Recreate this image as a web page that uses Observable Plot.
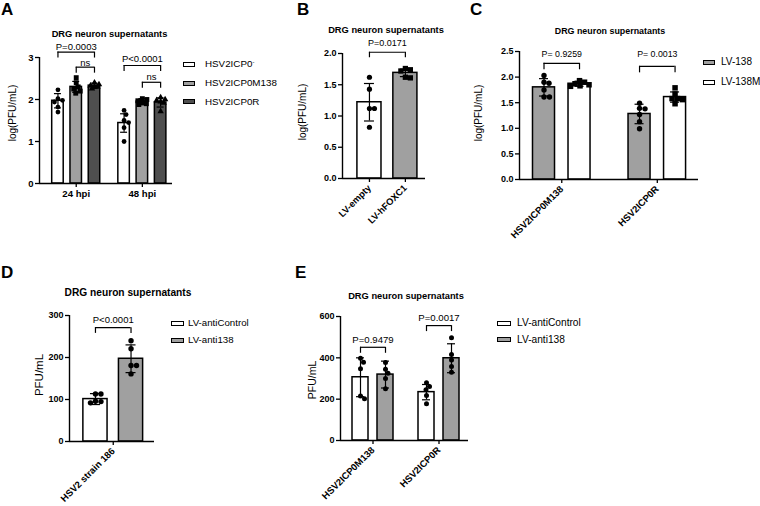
<!DOCTYPE html>
<html><head><meta charset="utf-8">
<script src="https://cdn.jsdelivr.net/npm/d3@7"></script>
<script src="https://cdn.jsdelivr.net/npm/@observablehq/plot@0.6"></script>
<style>
html,body{margin:0;padding:0;background:#fff;}
#root{position:relative;width:760px;height:506px;overflow:hidden;font-family:"Liberation Sans",Arial,Helvetica,sans-serif;color:#000;}
.abs{position:absolute;white-space:nowrap;}
.sw{position:absolute;box-sizing:border-box;border:1.5px solid #000;}
#root svg g[aria-label$="tick label"]{font-weight:bold;fill:#000;}
sup{font-size:0.6em;vertical-align:0.55em;line-height:0;}
</style></head>
<body><div id="root"></div>
<script>
// ---------------- DATA ----------------
// Panel A
const aGroups = ["24 hpi", "48 hpi"];
const aSeries = ["HSV2ICP0⁻", "HSV2ICP0M138", "HSV2ICP0R"];
const aMean = [[1.97, 2.30, 2.33], [1.44, 1.95, 1.93]];
const aSD = [[0.17, 0.13, 0.06], [0.22, 0.07, 0.11]];
const aPts = [
  [[2.23, 2.02, 1.98, 1.94, 1.82, 1.70], [2.52, 2.40, 2.30, 2.25, 2.20, 2.15], [2.40, 2.36, 2.33, 2.30, 2.30, 2.26]],
  [[1.74, 1.64, 1.50, 1.45, 1.33, 1.00], [2.02, 2.00, 1.97, 1.92, 1.88, 1.90], [2.05, 2.00, 1.98, 1.95, 1.92, 1.72]]
];
const aTests = [
  {g: 0, a: 0, b: 2, y: 3.13, label: "P=0.0003"},
  {g: 0, a: 1, b: 2, y: 2.77, label: "ns"},
  {g: 1, a: 0, b: 2, y: 2.81, label: "P<0.0001"},
  {g: 1, a: 1, b: 2, y: 2.41, label: "ns"}
];
// Panel B
const bLabels = ["LV-empty", "LV-hFOXC1"];
const bMean = [[1.22, 1.69]];
const bSD = [[0.30, 0.06]];
const bPts = [[[1.62, 1.43, 1.12, 1.12, 0.82], [1.76, 1.74, 1.72, 1.62, 1.61]]];
const bTests = [{g: 0, a: 0, b: 1, y: 2.02, label: "P=0.0171"}];
// Panel C
const cGroups = ["HSV2ICP0M138", "HSV2ICP0R"];
const cSeries = ["LV-138", "LV-138M"];
const cMean = [[1.80, 1.87], [1.28, 1.61]];
const cSD = [[0.17, 0.05], [0.19, 0.10]];
const cPts = [
  [[2.03, 1.90, 1.88, 1.75, 1.61, 1.61], [1.93, 1.90, 1.87, 1.85, 1.83, 1.82]],
  [[1.49, 1.39, 1.38, 1.27, 1.13, 0.99], [1.79, 1.67, 1.58, 1.56, 1.48, 1.58]]
];
const cTests = [
  {g: 0, a: 0, b: 1, y: 2.27, label: "P= 0.9259"},
  {g: 1, a: 0, b: 1, y: 2.21, label: "P= 0.0013"}
];
// Panel D
const dGroups = ["HSV2 strain 186"];
const dSeries = ["LV-antiControl", "LV-anti138"];
const dMean = [[101, 197]];
const dSD = [[13, 33]];
const dPts = [[[113, 113, 96, 95, 92], [240, 221, 181, 181, 161]]];
const dTests = [{g: 0, a: 0, b: 1, y: 271, label: "P<0.0001"}];
// Panel E
const eGroups = ["HSV2ICP0M138", "HSV2ICP0R"];
const eSeries = ["LV-antiControl", "LV-anti138"];
const eMean = [[306, 319], [234, 398]];
const eSD = [[94, 65], [37, 70]];
const ePts = [
  [[398, 379, 347, 215, 202], [378, 345, 325, 300, 250]],
  [[279, 261, 245, 218, 178], [497, 416, 390, 358, 330]]
];
const eTests = [
  {g: 0, a: 0, b: 1, y: 451, label: "P=0.9479"},
  {g: 1, a: 0, b: 1, y: 556, label: "P=0.0017"}
];

// ---------------- RENDERING ----------------
const FONT = '"Liberation Sans", Arial, Helvetica, sans-serif';
const root = document.getElementById("root");
const LIGHT = "#a0a0a0", DARK = "#4f4f4f", WHITE = "#ffffff";

function fmtName(s) { return s.replace("⁻", "<sup>-</sup>"); }

function addText(html, x, y, size, opts = {}) {
  const d = document.createElement("div");
  d.className = "abs";
  d.innerHTML = html;
  d.style.fontSize = size + "px";
  d.style.lineHeight = size + "px";
  d.style.fontWeight = opts.bold ? "bold" : "normal";
  d.style.left = x + "px";
  d.style.top = y + "px";
  d.style.transform = opts.rotate ? "translate(-50%,-50%) rotate(-90deg)"
    : opts.center ? "translate(-50%,-50%)" : "translateY(-50%)";
  root.appendChild(d);
}

function legend(names, fills, x, rows, tx, size, w, h) {
  names.forEach((n, i) => {
    const s = document.createElement("div");
    s.className = "sw";
    s.style.left = x + "px"; s.style.top = (rows[i] - h / 2) + "px";
    s.style.width = w + "px"; s.style.height = h + "px";
    s.style.background = fills[i];
    root.appendChild(s);
    addText(fmtName(n), tx, rows[i], size);
  });
}

// Deterministic beeswarm-like horizontal spread (GraphPad scatter style), in px
function spread(vals, pxPerVal, d, maxHalf) {
  const idx = vals.map((v, i) => i).sort((p, q) => vals[q] - vals[p]);
  const off = new Array(vals.length).fill(0);
  const placed = [];
  const minD = d * 0.85;
  for (const i of idx) {
    const y = vals[i] * pxPerVal;
    let best = null, bestScore = -1;
    for (let k = 0; ; k++) {
      const c = (k % 2 ? 1 : -1) * Math.ceil(k / 2) * 0.5;
      if (Math.abs(c) > maxHalf) break;
      const md = placed.length ? Math.min(...placed.map(p => Math.hypot(p.x - c, p.y - y))) : Infinity;
      if (md >= minD) { best = c; break; }
      if (md > bestScore + 0.3) { bestScore = md; best = c; }
    }
    if (best === null) best = 0;
    placed.push({x: best, y});
    off[i] = best;
  }
  return off;
}

function drawPanel(c) {
  const nS = c.series.length;
  const pos = (g, s) => g * (nS + c.gap) + s;
  const fw = c.W - c.mL - c.mR, fh = c.H - c.mT - c.mB;
  const unitPx = fw / (c.hi - c.lo), pxPerVal = fh / c.ymax;
  const bars = [], dots = [];
  c.groups.forEach((g, gi) => c.series.forEach((s, si) => {
    const p = pos(gi, si);
    bars.push({p, m: c.mean[gi][si], sd: c.sd[gi][si], fill: c.fills[si]});
    const vals = c.pts[gi][si];
    const offs = spread(vals, pxPerVal, c.r * 2 + 0.6, c.barW * unitPx / 2 - 1);
    vals.forEach((v, i) => dots.push({x: p + offs[i] / unitPx, y: v, sym: c.symbols[si]}));
  }));
  const ticks = c.barTicks
    ? c.series.map((s, si) => ({p: pos(0, si), label: s}))
    : c.groups.map((g, gi) => ({p: pos(gi, (nS - 1) / 2), label: g}));
  const tickLabel = new Map(ticks.map(t => [t.p, t.label]));
  const br = c.tests.map((b, i) => ({
    x1: pos(b.g, b.a), x2: pos(b.g, b.b), y: b.y, label: b.label,
    ty: b.y + c.pDy[i] / pxPerVal, leg: b.y - c.legPx / pxPerVal
  }));
  const legs = br.flatMap(b => [{x: b.x1, y1: b.y, y2: b.leg}, {x: b.x2, y1: b.y, y2: b.leg}]);
  const capU = c.cap / unitPx;
  const symR = {circle: c.r, square: c.r * 1.15, triangle: c.r * 1.0};

  const svg = Plot.plot({
    width: c.W, height: c.H,
    marginLeft: c.mL, marginRight: c.mR, marginTop: c.mT, marginBottom: c.mB,
    x: {domain: [c.lo, c.hi]},
    y: {domain: [0, c.ymax]},
    color: {type: "identity"},
    style: {background: "none", overflow: "visible", maxWidth: "none", fontFamily: FONT, fontSize: "9.5px", color: "#000"},
    marks: [
      Plot.rectY(bars, {x1: d => d.p - c.barW / 2, x2: d => d.p + c.barW / 2, y1: 0, y2: "m", fill: "fill", stroke: "#000", strokeWidth: 1.5}),
      Plot.ruleX(bars, {x: "p", y1: d => d.m - d.sd, y2: d => d.m + d.sd, stroke: "#000", strokeWidth: 1.2}),
      Plot.ruleY(bars, {x1: d => d.p - capU, x2: d => d.p + capU, y: d => d.m + d.sd, stroke: "#000", strokeWidth: 1.2}),
      Plot.ruleY(bars, {x1: d => d.p - capU, x2: d => d.p + capU, y: d => d.m - d.sd, stroke: "#000", strokeWidth: 1.2}),
      ...["circle", "square", "triangle"].map(sym =>
        Plot.dot(dots.filter(d => d.sym === sym), {x: "x", y: "y", symbol: sym, r: symR[sym], fill: "#000", stroke: "none"})),
      Plot.ruleY([0], {stroke: "#000", strokeWidth: 1.4}),
      Plot.ruleX([c.lo], {y1: 0, y2: c.ymax, stroke: "#000", strokeWidth: 1.4}),
      Plot.ruleY(br, {x1: "x1", x2: "x2", y: "y", stroke: "#000", strokeWidth: 1.2}),
      Plot.ruleX(legs, {x: "x", y1: "y1", y2: "y2", stroke: "#000", strokeWidth: 1.2}),
      Plot.text(br, {x: d => (d.x1 + d.x2) / 2, y: "ty", text: "label", fontSize: c.pSize, fill: "#000"}),
      Plot.axisY({ticks: c.yticks, tickFormat: c.yfmt, tickSize: 4, tickPadding: 2, label: null, fontSize: c.tickFont, fontWeight: "bold", stroke: "#000", strokeWidth: 1.3}),
      Plot.axisX({ticks: ticks.map(t => t.p), tickFormat: p => tickLabel.get(p), tickSize: 4, tickPadding: c.rotate ? 4 : 3,
        tickRotate: c.rotate ? -45 : 0, label: null, fontSize: c.xFont, fontWeight: "bold", stroke: "#000", strokeWidth: 1.3})
    ]
  });
  const wrap = document.createElement("div");
  wrap.className = "abs";
  wrap.style.left = c.left + "px"; wrap.style.top = c.top + "px";
  wrap.style.width = c.W + "px"; wrap.style.height = c.H + "px";
  wrap.appendChild(svg);
  root.appendChild(wrap);
}

// Panel A
drawPanel({
  groups: aGroups, series: aSeries, mean: aMean, sd: aSD, pts: aPts, tests: aTests,
  fills: [WHITE, LIGHT, DARK], symbols: ["circle", "square", "triangle"],
  left: 0, top: 30, W: 182, H: 180, mL: 39, mR: 10, mT: 27, mB: 27,
  lo: -1.01, hi: 6.27, gap: 0.62, barW: 0.63, ymax: 3, yticks: [0, 1, 2, 3], yfmt: d3.format("d"),
  cap: 3.5, r: 2.4, legPx: 6, pDy: [5.5, 4.5, 6.7, 5.7], pSize: 9.5, tickFont: 9.5, xFont: 9.6, rotate: false
});
// Panel B
drawPanel({
  groups: [""], series: bLabels, mean: bMean, sd: bSD, pts: bPts, tests: bTests, barTicks: true,
  fills: [WHITE, LIGHT], symbols: ["circle", "square"],
  left: 290, top: 30, W: 150, H: 210, mL: 52, mR: 15, mT: 23, mB: 62,
  lo: -0.75, hi: 1.56, gap: 0, barW: 0.67, ymax: 2, yticks: [0, 0.5, 1, 1.5, 2], yfmt: d3.format(".1f"),
  cap: 5, r: 2.6, legPx: 5.5, pDy: [9], pSize: 9, tickFont: 9, xFont: 9.3, rotate: true
});
// Panel C
drawPanel({
  groups: cGroups, series: cSeries, mean: cMean, sd: cSD, pts: cPts, tests: cTests,
  fills: [LIGHT, WHITE], symbols: ["circle", "square"],
  left: 470, top: 30, W: 240, H: 220, mL: 49, mR: 12, mT: 21, mB: 71,
  lo: -0.69, hi: 4.35, gap: 0.69, barW: 0.62, ymax: 2.5, yticks: [0, 0.5, 1, 1.5, 2, 2.5], yfmt: d3.format(".1f"),
  cap: 4.5, r: 2.7, legPx: 6.5, pDy: [9.5, 12], pSize: 8.8, tickFont: 9, xFont: 9.5, rotate: true
});
// Panel D
drawPanel({
  groups: dGroups, series: dSeries, mean: dMean, sd: dSD, pts: dPts, tests: dTests,
  fills: [WHITE, LIGHT], symbols: ["circle", "circle"],
  left: 20, top: 290, W: 145, H: 215, mL: 49, mR: 11, mT: 25, mB: 64,
  lo: -0.73, hi: 1.66, gap: 0, barW: 0.68, ymax: 300, yticks: [0, 100, 200, 300], yfmt: d3.format("d"),
  cap: 5, r: 2.7, legPx: 5.7, pDy: [8], pSize: 9.5, tickFont: 9, xFont: 9.5, rotate: true
});
// Panel E
drawPanel({
  groups: eGroups, series: eSeries, mean: eMean, sd: eSD, pts: ePts, tests: eTests,
  fills: [WHITE, LIGHT], symbols: ["circle", "circle"],
  left: 290, top: 290, W: 190, H: 215, mL: 50, mR: 12, mT: 26, mB: 65,
  lo: -0.8, hi: 4.32, gap: 0.64, barW: 0.64, ymax: 600, yticks: [0, 200, 400, 600], yfmt: d3.format("d"),
  cap: 4, r: 2.5, legPx: 6, pDy: [7, 7.5], pSize: 9.6, tickFont: 9, xFont: 9.5, rotate: true
});

// Panel letters
[["A", 1, 9], ["B", 297, 9], ["C", 470, 9], ["D", 1, 271.5], ["E", 295, 271.5]]
  .forEach(([t, x, y]) => addText(t, x, y, 17, {bold: true}));
// Titles
[[109.5, 35, 9.3], [386, 31, 9.3], [610, 31, 8.9], [128, 293, 10.2], [406, 297, 9.3]]
  .forEach(([x, y, s]) => addText("DRG neuron supernatants", x, y, s, {bold: true, center: true}));
// Y-axis titles
addText("log(PFU/mL)", 13, 113, 10, {rotate: true});
addText("log(PFU/mL)", 303, 112, 10, {rotate: true});
addText("log(PFU/mL)", 479, 113, 10, {rotate: true});
addText("PFU/mL", 40, 375, 11.5, {rotate: true});
addText("PFU/mL", 312, 380, 10.5, {rotate: true});
// Legends
legend(aSeries, [WHITE, LIGHT, DARK], 183, [64, 83, 101.5], 205, 9.8, 12, 5);
legend(cSeries, [LIGHT, WHITE], 703, [62, 82], 721, 10, 12, 5);
legend(dSeries, [WHITE, LIGHT], 171, [323, 340], 188, 9.7, 13, 5);
legend(eSeries, [WHITE, LIGHT], 497, [323, 339.5], 517, 10.2, 14, 5);
</script>
</body></html>
